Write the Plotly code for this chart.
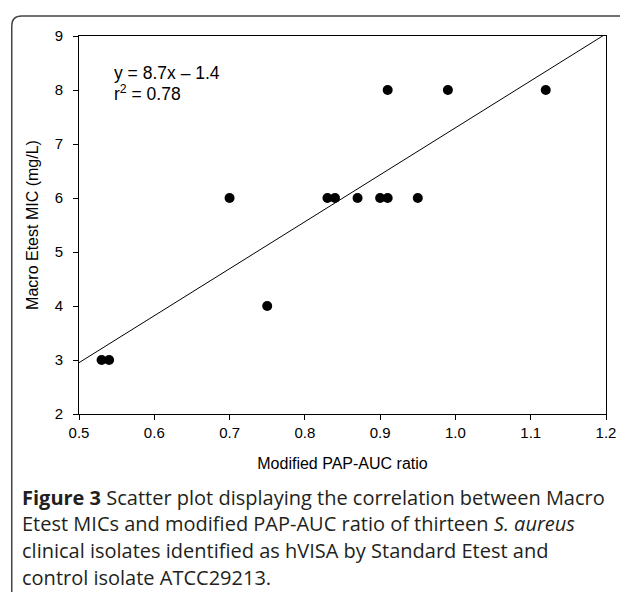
import plotly.graph_objects as go

# Data
pap_auc_ratio = [0.53, 0.54, 0.70, 0.75, 0.83, 0.84, 0.87, 0.90, 0.91, 0.91, 0.95, 0.99, 1.12]
macro_etest_mic = [3, 3, 6, 4, 6, 6, 6, 6, 6, 8, 6, 8, 8]
fit_slope = 8.7
fit_intercept = -1.4
fit_x = [0.5, 1.2]
fit_y = [fit_slope * v + fit_intercept for v in fit_x]

x_ticks = [0.5, 0.6, 0.7, 0.8, 0.9, 1.0, 1.1, 1.2]
x_tick_labels = ["0.5", "0.6", "0.7", "0.8", "0.9", "1.0", "1.1", "1.2"]
y_ticks = [2, 3, 4, 5, 6, 7, 8, 9]

caption_lines = [
    "<b>Figure 3</b> Scatter plot displaying the correlation between Macro",
    "Etest MICs and modified PAP-AUC ratio of thirteen <i>S. aureus</i>",
    "clinical isolates identified as hVISA by Standard Etest and",
    "control isolate ATCC29213.",
]

# page has an 8px body margin; work in page coordinates and shift
OFF = 8
W, H = 628 - OFF, 592 - OFF
L, R, T, B = 79 - OFF, 16, 36 - OFF, 178
PW, PH = W - L - R, H - B - T

def px(x):
    return (x - OFF - L) / PW

def py(y):
    return (H - B - (y - OFF)) / PH

fig = go.Figure()
fig.add_trace(go.Scatter(x=fit_x, y=fit_y, mode="lines",
                         line=dict(color="black", width=1), showlegend=False))
fig.add_trace(go.Scatter(x=pap_auc_ratio, y=macro_etest_mic, mode="markers",
                         marker=dict(color="black", size=10), showlegend=False))

tick_font = dict(family="Liberation Sans, Arial, sans-serif", size=15, color="black")
title_font = dict(family="Liberation Sans, Arial, sans-serif", size=16, color="black")
fig.update_xaxes(range=[0.5, 1.2], tickvals=x_ticks, ticktext=x_tick_labels,
                 ticks="outside", ticklen=5, tickcolor="black", tickwidth=1,
                 showline=True, linecolor="black", linewidth=1, mirror=True,
                 showgrid=False, zeroline=False, tickfont=tick_font,
                 title=dict(text="Modified PAP-AUC ratio", font=title_font, standoff=17))
fig.update_yaxes(range=[2, 9], tickvals=y_ticks,
                 ticks="outside", ticklen=5, tickcolor="black", tickwidth=1,
                 showline=True, linecolor="black", linewidth=1, mirror=True,
                 showgrid=False, zeroline=False, tickfont=tick_font,
                 ticklabelstandoff=7,
                 title=dict(text="Macro Etest MIC (mg/L)", font=title_font, standoff=12))

eq_font = dict(family="Liberation Sans, Arial", size=17.5, color="black")
annotations = [
    dict(x=px(112), y=py(73), xref="paper", yref="paper", xanchor="left", yanchor="middle",
         text="y = 8.7x \u2013 1.4", showarrow=False, font=eq_font),
    dict(x=px(112), y=py(93), xref="paper", yref="paper", xanchor="left", yanchor="middle",
         text="r<sup>2</sup> = 0.78", showarrow=False, font=eq_font),
]
cap_y = [497, 523, 550, 577]
for line, yy in zip(caption_lines, cap_y):
    annotations.append(dict(x=px(19), y=py(yy), xref="paper", yref="paper",
                            xanchor="left", yanchor="middle", text=line, showarrow=False,
                            font=dict(family="Open Sans", size=20, color="#231f20")))

# rounded frame
x0, y0, r = 11, 16, 10
x1, y1 = 650, 620
path = (f"M {px(x0)},{py(y1)} L {px(x0)},{py(y0 + r)} "
        f"Q {px(x0)},{py(y0)} {px(x0 + r)},{py(y0)} L {px(x1)},{py(y0)}")
shapes = [dict(type="path", xref="paper", yref="paper", path=path,
               line=dict(color="#444444", width=1.5))]

fig.update_layout(width=W, height=H, margin=dict(l=L, r=R, t=T, b=B),
                  paper_bgcolor="white", plot_bgcolor="white",
                  annotations=annotations, shapes=shapes, showlegend=False)

fig.write_html("out.html")
